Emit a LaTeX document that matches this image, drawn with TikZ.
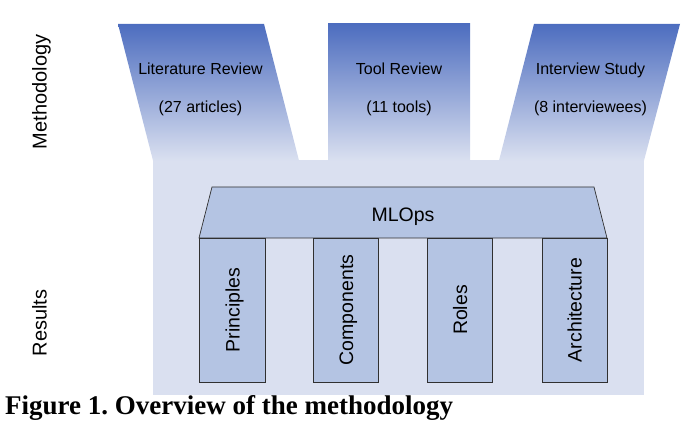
\documentclass[tikz,border=0pt]{standalone}
\usepackage{fontspec}
\setmainfont{Liberation Sans}
\newfontfamily\capfont{Liberation Serif}
\definecolor{topblue}{HTML}{4D6DBF}
\definecolor{lightblue}{HTML}{DAE0F0}
\definecolor{colblue}{HTML}{B4C4E3}
\definecolor{edge}{HTML}{303030}
\frenchspacing
\begin{document}
\begin{tikzpicture}[x=1pt,y=-1pt,
  funnel/.style={top color=topblue,bottom color=lightblue,draw=none},
  toplabel/.style={font=\fontsize{16}{18}\selectfont,anchor=base,inner sep=0pt},
  biglabel/.style={font=\fontsize{19.5}{22}\selectfont,anchor=base,inner sep=0pt},
  pillar/.style={fill=colblue,draw=edge,line width=0.7pt},
  vlabel/.style={font=\fontsize{19.5}{22}\selectfont,anchor=base,inner sep=0pt,rotate=90}]
\useasboundingbox (0,0) rectangle (688,430);
% results background
\fill[lightblue] (153,160) rectangle (644,395);
% funnels
\shade[funnel] (118,24) -- (264,24) -- (299,160.6) -- (153,160.6) -- cycle;
\shade[funnel] (328,24) -- (470,24) -- (470,160.6) -- (328,160.6) -- cycle;
\shade[funnel] (534,24) -- (680,24) -- (644,160.6) -- (499,160.6) -- cycle;
% methodology labels
\node[toplabel] (lit) at (200.5,75) {Literature Review};
\node[toplabel] (litn) at (200.5,113) {(27 articles)};
\node[toplabel] (tool) at (399,75) {Tool Review};
\node[toplabel] (tooln) at (399,113) {(11 tools)};
\node[toplabel] (int) at (590.5,75) {Interview Study};
\node[toplabel] (intn) at (590.5,113) {(8 interviewees)};
% roof
\draw[pillar] (199,238) -- (212,187) -- (594,187) -- (607,238) -- cycle;
\node[biglabel] (mlops) at (403,222) {MLOps};
% pillars
\draw[pillar] (199,238) rectangle (265,382);
\draw[pillar] (313,238) rectangle (378,382);
\draw[pillar] (427,238) rectangle (492,382);
\draw[pillar] (542,238) rectangle (607,382);
\node[vlabel] (pri) at (239.5,310) {Principles};
\node[vlabel] (com) at (353,310) {Components};
\node[vlabel] (rol) at (467,310) {Roles};
\node[vlabel] (arc) at (581.5,310) {Architecture};
% side labels
\node[vlabel,font=\fontsize{20}{22}\selectfont] (meth) at (46.5,92) {Methodology};
\node[vlabel,font=\fontsize{20}{22}\selectfont] (res) at (46.5,323) {Results};
% caption
\node[anchor=base west,inner sep=0pt,font=\capfont\bfseries\fontsize{27}{29}\selectfont] (cap) at (5,414) {Figure 1. Overview of the methodology};
\end{tikzpicture}
\end{document}
